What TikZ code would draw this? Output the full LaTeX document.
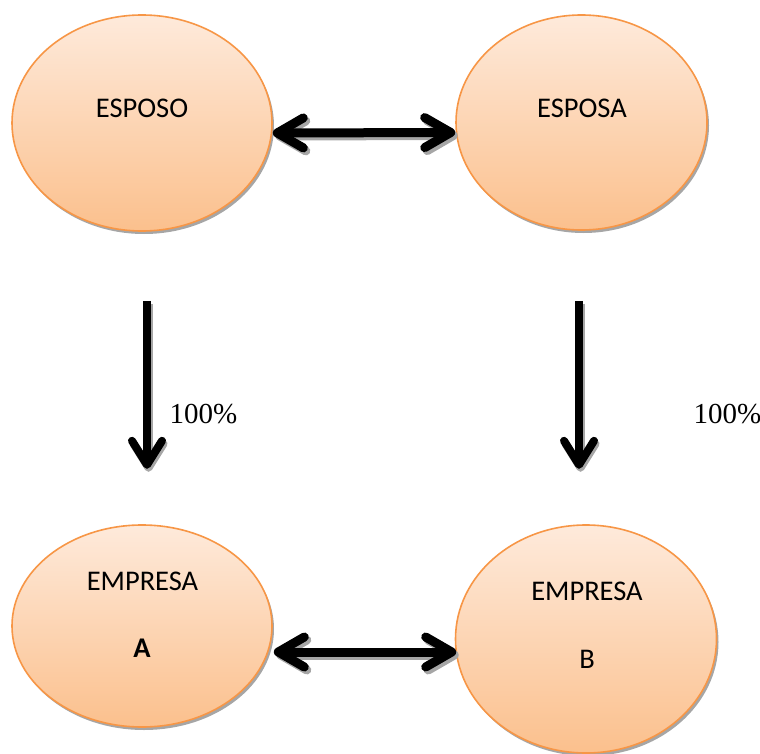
\documentclass[tikz,border=0pt]{standalone}
\usepackage{fontspec}
\setmainfont{Liberation Serif}
\newfontfamily\labelfont{Carlito}
\usetikzlibrary{arrows.meta,shadows,shapes.geometric}

\definecolor{peachtop}{HTML}{FEEADB}
\definecolor{peachbot}{HTML}{FBC08D}
\definecolor{peachline}{HTML}{F79646}
\definecolor{shadowgray}{HTML}{A6A6A6}

\tikzset{
  party/.style={ellipse, draw=peachline, line width=1.6pt,
    top color=peachtop, bottom color=peachbot, inner sep=0pt,
    drop shadow={shadow xshift=2pt, shadow yshift=-3pt, fill=shadowgray, opacity=1}},
  partytext/.style={anchor=base, font=\labelfont\fontsize{28.5}{34}\selectfont},
  pct/.style={anchor=base west, font=\fontsize{29}{34}\selectfont},
  linkbarb/.tip={Straight Barb[length=26pt, width=30pt, round]},
  ownbarb/.tip={Straight Barb[length=24pt, width=30pt, round]},
  link/.style={line width=9pt, linkbarb-linkbarb},
  linkshadow/.style={link, draw=shadowgray, transform canvas={xshift=2.5pt, yshift=-3pt}},
  own/.style={line width=8pt, -ownbarb},
  ownshadow/.style={own, draw=shadowgray, transform canvas={xshift=1.5pt, yshift=-3pt}}
}

\begin{document}
\begin{tikzpicture}[x=1pt, y=-1pt]
\useasboundingbox (0,0) rectangle (760,754);

% people and companies
\node[party, minimum width=260pt, minimum height=216pt] (esposo) at (142,123) {};
\node[party, minimum width=251pt, minimum height=215pt] (esposa) at (581.5,122.5) {};
\node[party, minimum width=260pt, minimum height=202pt] (empa) at (142,626) {};
\node[party, minimum width=261pt, minimum height=228pt] (empb) at (586,639) {};

\node[partytext] (tesposo) at (142,118) {ESPOSO};
\node[partytext] (tesposa) at (582,118) {ESPOSA};
\node[partytext] (tempa) at (142.5,590) {EMPRESA};
\node[partytext] (tempaid) at (142,657) {\bfseries A};
\node[partytext] (tempb) at (587,600) {EMPRESA};
\node[partytext] (tempbid) at (587,668) {B};

% ends of the ownership arrows
\coordinate (oa1) at ([xshift=5pt, yshift=-69pt]esposo.south);
\coordinate (oa2) at ([xshift=5pt, yshift=-237pt]esposo.south);
\coordinate (ob1) at ([xshift=-2.5pt, yshift=-70pt]esposa.south);
\coordinate (ob2) at ([xshift=-2.5pt, yshift=-238pt]esposa.south);

% shadows first, then the arrows
\draw[linkshadow] ([yshift=-10pt]esposo.east) -- ([yshift=-10pt]esposa.west);
\draw[linkshadow] ([xshift=1pt, yshift=-26pt]empa.east) -- ([xshift=1.5pt, yshift=-13pt]empb.west);
\draw[ownshadow] (oa1) -- (oa2);
\draw[ownshadow] (ob1) -- (ob2);

\draw[link] ([yshift=-10pt]esposo.east) -- ([yshift=-10pt]esposa.west);
\draw[link] ([xshift=1pt, yshift=-26pt]empa.east) -- ([xshift=1.5pt, yshift=-13pt]empb.west);
\draw[own] (oa1) -- (oa2);
\draw[own] (ob1) -- (ob2);

% shares
\node[pct] (pcta) at (166,423) {100\%};
\node[pct] (pctb) at (690,423) {100\%};
\end{tikzpicture}
\end{document}
